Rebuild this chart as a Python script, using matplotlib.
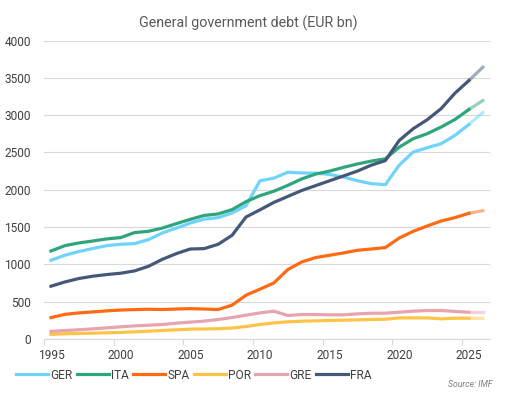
import matplotlib.pyplot as plt
from matplotlib.lines import Line2D

# --- data (EUR bn) ---
years = list(range(1995, 2027))
countries = ['GER', 'ITA', 'SPA', 'POR', 'GRE', 'FRA']

ger = [1054, 1121, 1171, 1211, 1250, 1268, 1277, 1331, 1420, 1486, 1553, 1605,
       1625, 1688, 1785, 2120, 2155, 2235, 2225, 2222, 2205, 2170, 2120, 2081,
       2068, 2330, 2505, 2563, 2617, 2728, 2875, 3035]
ita = [1178, 1250, 1286, 1312, 1340, 1358, 1425, 1442, 1486, 1545, 1603, 1655,
       1675, 1733, 1840, 1920, 1980, 2058, 2145, 2210, 2250, 2300, 2345, 2384,
       2414, 2571, 2684, 2751, 2840, 2942, 3076, 3196]
spa = [285, 328, 348, 361, 375, 386, 392, 397, 393, 400, 405, 400,
       393, 452, 585, 666, 750, 929, 1031, 1090, 1121, 1152, 1188, 1205,
       1224, 1352, 1442, 1513, 1580, 1626, 1684, 1720]
por = [59, 68, 72, 77, 81, 86, 94, 103, 112, 121, 130, 132,
       136, 145, 166, 192, 214, 228, 237, 241, 246, 250, 255, 259,
       263, 281, 281, 281, 268, 277, 277, 273]
gre = [99, 112, 121, 134, 147, 161, 174, 183, 192, 210, 224, 238,
       259, 286, 317, 348, 371, 313, 326, 326, 322, 322, 335, 344,
       344, 357, 371, 380, 380, 367, 357, 357]
fra = [706, 763, 809, 840, 862, 880, 911, 973, 1067, 1143, 1205, 1210,
       1268, 1389, 1634, 1730, 1830, 1910, 1990, 2055, 2120, 2185, 2250, 2330,
       2390, 2661, 2818, 2938, 3086, 3295, 3464, 3643]

series = [ger, ita, spa, por, gre, fra]
colors = ['#6FD3FC', '#2FA57E', '#FF6A13', '#FFC447', '#E8A4AE', '#45587A']

plt.rcParams['font.family'] = ['Roboto', 'DejaVu Sans']

fig = plt.figure(figsize=(5.06, 3.94), dpi=100)
ax = fig.add_axes([0.087, 0.140, 0.881, 0.757])

lw = 2.3
# forecast year (2025->2026) is drawn lighter
for vals, col in zip(series, colors):
    ax.plot(years[:-1], vals[:-1], color=col, lw=lw, solid_joinstyle='round', zorder=3)
    ax.plot(years[-2:], vals[-2:], color=col, lw=lw, alpha=0.5, zorder=3)

ax.set_xlim(1994.5, 2026.5)
ax.set_ylim(0, 4000)
ax.set_yticks(range(0, 4001, 500))
ax.set_xticks(range(1995, 2026, 5))
ax.set_xticks([1994.5 + 5 * k for k in range(7)], minor=True)
ax.tick_params(axis='x', which='major', length=0, pad=7, labelsize=8.6, labelcolor='#404040')
ax.tick_params(axis='x', which='minor', length=4, color='#D9D9D9', width=0.8)
ax.tick_params(axis='y', length=0, pad=9.4, labelsize=8.6, labelcolor='#404040')

ax.grid(axis='y', color='#D9D9D9', lw=0.8, zorder=0)
for s in ['top', 'right', 'left']:
    ax.spines[s].set_visible(False)
ax.spines['bottom'].set_color('#D9D9D9')
ax.spines['bottom'].set_linewidth(0.8)

fig.text(0.49, 0.94, 'General government debt (EUR bn)', ha='center', va='center',
         fontsize=10.3, color='#595959')

handles = [Line2D([], [], color=c, lw=lw) for c in colors]
fig.legend(handles, countries, loc='center', bbox_to_anchor=(0.383, 0.048), ncol=6,
           frameon=False, fontsize=8.6, handlelength=2.7, handletextpad=0.17,
           columnspacing=0.35, labelcolor='#404040')

fig.text(0.974, 0.025, 'Source: IMF', ha='right', va='center', fontsize=6.2,
         style='italic', color='#7F7F7F')

fig.savefig('out.png', dpi=100)
